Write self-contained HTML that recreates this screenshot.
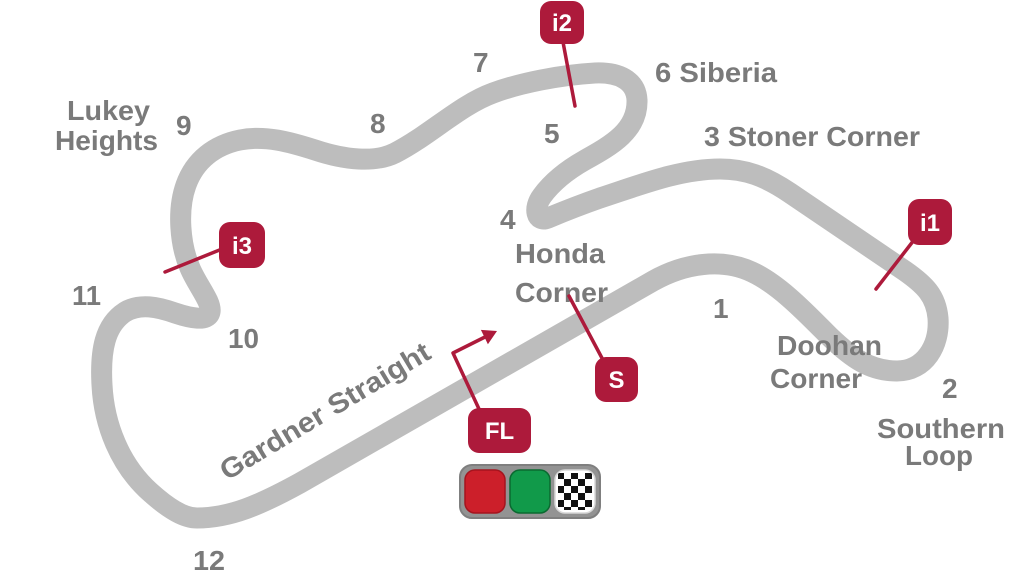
<!DOCTYPE html>
<html><head><meta charset="utf-8"><style>
html,body{margin:0;padding:0;background:#fff;width:1024px;height:577px;overflow:hidden}
svg{display:block}
.t{font-family:"Liberation Sans","DejaVu Sans",sans-serif;font-weight:bold;font-size:28px;fill:#7a7a7a}
.b{font-family:"Liberation Sans","DejaVu Sans",sans-serif;font-weight:bold;font-size:24px;fill:#fff}
</style></head><body>
<svg width="1024" height="577" viewBox="0 0 1024 577" xmlns="http://www.w3.org/2000/svg">
<defs>
<pattern id="chk" x="557" y="472" width="14" height="14" patternUnits="userSpaceOnUse">
<rect width="14" height="14" fill="#fff"/>
<rect width="7" height="7" fill="#111"/>
<rect x="7" y="7" width="7" height="7" fill="#111"/>
</pattern>
<clipPath id="cc"><rect x="555" y="470" width="40" height="43" rx="10"/></clipPath>
</defs>
<rect width="1024" height="577" fill="#fff"/>
<path d="M197,518 C230,518 260,505 300,483 L653,281 C685,263 722,258 752,272 C780,285 808,315 830,337 C852,358 870,371 897,371 C925,371 940,345 938,318 C936,296 925,285 905,271 L790,193 C765,176 745,169 720,169 C680,169 640,185 600,198 C580,205 560,213 548,218 C536,223 533,208 542,196 C550,185 562,173 585,160 C612,145 638,130 637,100 C636,80 618,72 595,73 C560,75 520,83 493,93 C460,105 430,135 395,153 C375,163 345,160 315,150 C290,142 265,135 240,140 C215,145 195,160 186,185 C177,210 180,245 190,268 C197,285 212,302 210,312 C208,322 190,318 175,313 C158,307 140,303 125,312 C105,325 100,350 102,385 C104,425 120,465 150,492 C170,510 185,518 197,518 Z" fill="none" stroke="#bdbdbd" stroke-width="21" stroke-linejoin="round"/>

<!-- labels -->
<text class="t" x="67" y="120" textLength="83" lengthAdjust="spacingAndGlyphs">Lukey</text>
<text class="t" x="55" y="150" textLength="103" lengthAdjust="spacingAndGlyphs">Heights</text>
<text class="t" x="176" y="135">9</text>
<text class="t" x="473" y="72">7</text>
<text class="t" x="370" y="133">8</text>
<text class="t" x="544" y="143">5</text>
<text class="t" x="655" y="82" textLength="122" lengthAdjust="spacingAndGlyphs">6 Siberia</text>
<text class="t" x="704" y="146" textLength="216" lengthAdjust="spacingAndGlyphs">3 Stoner Corner</text>
<text class="t" x="500" y="229">4</text>
<text class="t" x="515" y="263" textLength="90" lengthAdjust="spacingAndGlyphs">Honda</text>
<text class="t" x="515" y="302" textLength="93" lengthAdjust="spacingAndGlyphs">Corner</text>
<text class="t" x="713" y="318">1</text>
<text class="t" x="777" y="355" textLength="105" lengthAdjust="spacingAndGlyphs">Doohan</text>
<text class="t" x="770" y="388" textLength="92" lengthAdjust="spacingAndGlyphs">Corner</text>
<text class="t" x="942" y="398">2</text>
<text class="t" x="877" y="438" textLength="128" lengthAdjust="spacingAndGlyphs">Southern</text>
<text class="t" x="905" y="465" textLength="68" lengthAdjust="spacingAndGlyphs">Loop</text>
<text class="t" x="72" y="305" textLength="29" lengthAdjust="spacingAndGlyphs">11</text>
<text class="t" x="228" y="348" textLength="31" lengthAdjust="spacingAndGlyphs">10</text>
<text class="t" x="193" y="570" textLength="32" lengthAdjust="spacingAndGlyphs">12</text>
<text class="t" x="227" y="481" transform="rotate(-31 227 481)" textLength="240" lengthAdjust="spacingAndGlyphs">Gardner Straight</text>

<!-- pointer lines -->
<g stroke="#ad1a3b" stroke-width="3.5" stroke-linecap="round" fill="none">
<line x1="914" y1="240" x2="876" y2="289"/>
<line x1="563" y1="42" x2="575" y2="106"/>
<line x1="222" y1="249" x2="165" y2="272"/>
<line x1="603" y1="360" x2="569" y2="296"/>
<polyline points="479,409 453,353 485,337" stroke-linejoin="round"/>
</g>
<polygon points="497,331 480.9,329.9 487.9,344.3" fill="#ad1a3b"/>

<!-- badges -->
<g fill="#ad1a3b">
<rect x="908" y="199" width="44" height="46" rx="11"/>
<rect x="540" y="1" width="44" height="43" rx="11"/>
<rect x="219" y="222" width="46" height="46" rx="11"/>
<rect x="595" y="357" width="43" height="45" rx="11"/>
<rect x="468" y="408" width="63" height="45" rx="11"/>
</g>
<text class="b" x="930" y="231" text-anchor="middle">i1</text>
<text class="b" x="562" y="31" text-anchor="middle">i2</text>
<text class="b" x="242" y="254" text-anchor="middle">i3</text>
<text class="b" x="616.5" y="388" text-anchor="middle">S</text>
<text class="b" x="499.5" y="439" text-anchor="middle">FL</text>

<!-- lights -->
<rect x="460" y="465" width="140" height="53" rx="12" fill="#939393" stroke="#7f7f7f" stroke-width="2"/>
<rect x="465" y="470" width="40" height="43" rx="10" fill="#cc1f2a" stroke="#a5141e" stroke-width="1.5"/>
<rect x="510" y="470" width="40" height="43" rx="10" fill="#119a4a" stroke="#0a6a30" stroke-width="1.5"/>
<rect x="555" y="470" width="40" height="43" rx="10" fill="#fff"/>
<g clip-path="url(#cc)"><rect x="558" y="473" width="34" height="37" fill="url(#chk)"/></g>
<rect x="555" y="470" width="40" height="43" rx="10" fill="none" stroke="#d8d8d8" stroke-width="1.5"/>
</svg>
</body></html>
